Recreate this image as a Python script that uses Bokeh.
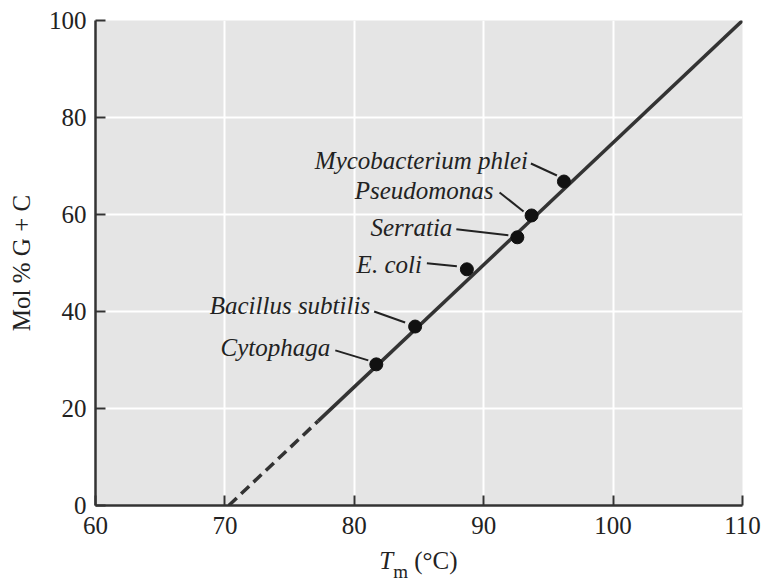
from bokeh.plotting import figure
from bokeh.models import ColumnDataSource, FixedTicker, Range1d, Div
from bokeh.layouts import column
from bokeh.core.properties import value
from bokeh.embed import file_html
from bokeh.resources import INLINE

# ---- data ----
species = ["Mycobacterium phlei", "Pseudomonas", "Serratia", "E. coli",
           "Bacillus subtilis", "Cytophaga"]
tm_values = [96.2, 93.7, 92.6, 88.7, 84.7, 81.7]
gc_values = [66.8, 59.8, 55.3, 48.7, 36.9, 29.1]

# fitted line: dashed extrapolation then solid part
line_dash_tm = [70.3, 77.2]
line_dash_gc = [0.0, 17.4]
line_solid_tm = [77.2, 110.0]
line_solid_gc = [17.4, 100.0]

x_ticks = [60, 70, 80, 90, 100, 110]
y_ticks = [0, 20, 40, 60, 80, 100]

# ---- layout / style (screen pixel offsets of labels relative to points) ----
W, H, H_TITLE = 764, 545, 37
LEFT, RIGHT, TOP, BOTTOM = 95, 22, 20, 40
label_off = [(-36, -21), (-38, -25), (-65, -10), (-45, -5), (-45, -21), (-46, -17)]
lead_start = [(-33, -18), (-32, -23), (-61, -8), (-40, -6), (-41, -15), (-41, -14)]
lead_end = [(-7, -6), (-8, -4), (-9, -2), (-10, -3), (-10, -4), (-8, -4)]

XMIN, XMAX, YMIN, YMAX = 60, 110, 0, 100
px_x = (W - LEFT - RIGHT) / (XMAX - XMIN)
px_y = (H - TOP - BOTTOM) / (YMAX - YMIN)

SERIF = "Liberation Serif"
DARK = "#333333"
TEXT = "#222222"

p = figure(width=W, height=H, output_backend="svg", toolbar_location=None,
           x_range=Range1d(XMIN, XMAX), y_range=Range1d(YMIN, YMAX),
           min_border_left=LEFT, min_border_right=RIGHT,
           min_border_top=TOP, min_border_bottom=BOTTOM)
p.background_fill_color = "#e5e5e5"
p.border_fill_color = "white"
p.outline_line_color = None

p.xgrid.ticker = FixedTicker(ticks=x_ticks)
p.ygrid.ticker = FixedTicker(ticks=y_ticks)
for g in (p.xgrid, p.ygrid):
    g.grid_line_color = "white"
    g.grid_line_width = 2

for ax, ticks in ((p.xaxis, x_ticks), (p.yaxis, y_ticks)):
    ax.ticker = FixedTicker(ticks=ticks)
    ax.axis_line_color = DARK
    ax.axis_line_width = 2.5
    ax.major_tick_line_color = DARK
    ax.major_tick_line_width = 2
    ax.major_tick_in = 10
    ax.major_tick_out = 0
    ax.minor_tick_line_color = None
    ax.major_label_text_font = SERIF
    ax.major_label_text_font_size = "25px"
    ax.major_label_text_color = TEXT

p.xaxis.major_label_standoff = 11
p.yaxis.major_label_standoff = 9
p.yaxis.axis_label = "Mol % G + C"
p.yaxis.axis_label_text_font = SERIF
p.yaxis.axis_label_text_font_size = "25px"
p.yaxis.axis_label_text_font_style = "normal"
p.yaxis.axis_label_text_color = TEXT
p.yaxis.axis_label_standoff = 11

# fitted line
p.line(line_dash_tm, line_dash_gc, line_color=DARK, line_width=3.5, line_dash="11 6")
p.line(line_solid_tm, line_solid_gc, line_color=DARK, line_width=3.5)

# leader lines
x0 = [x + s[0] / px_x for x, s in zip(tm_values, lead_start)]
y0 = [y - s[1] / px_y for y, s in zip(gc_values, lead_start)]
x1 = [x + e[0] / px_x for x, e in zip(tm_values, lead_end)]
y1 = [y - e[1] / px_y for y, e in zip(gc_values, lead_end)]
p.segment(x0, y0, x1, y1, line_color=TEXT, line_width=2)

# points
src = ColumnDataSource(dict(tm=tm_values, gc=gc_values, name=species,
                            dx=[o[0] for o in label_off], dy=[o[1] for o in label_off]))
p.scatter("tm", "gc", source=src, size=13, fill_color="#111111", line_color="#111111")
p.text("tm", "gc", text="name", source=src, x_offset="dx", y_offset="dy",
       text_align="right", text_baseline="middle",
       text_font=value(SERIF), text_font_style="italic",
       text_font_size="25px", text_color=TEXT)

# x axis title: italic T with subscript m, then (°C)
title_html = (
    f'<div style="width:{W - LEFT - RIGHT}px; margin-left:{LEFT}px; text-align:center; '
    f'font-family:\'{SERIF}\'; font-size:25px; line-height:30px; padding-top:1px; '
    f'color:{TEXT}; white-space:nowrap;">'
    '<i>T</i><span style="font-size:19px; vertical-align:-9px;">m</span> (°C)</div>'
)
title = Div(text=title_html, width=W, height=H_TITLE, margin=0)

layout = column(p, title, spacing=0, margin=0)
open("out.html", "w").write(file_html(layout, INLINE))
